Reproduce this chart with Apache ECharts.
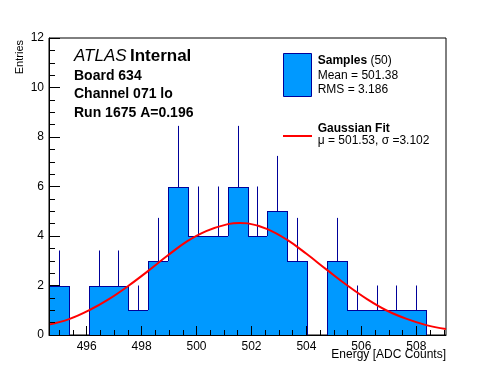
<!DOCTYPE html>
<html><head><meta charset="utf-8">
<script src="https://cdn.jsdelivr.net/npm/echarts@6/dist/echarts.min.js"></script>
<style>html,body{margin:0;padding:0;background:#fff}#c{width:496px;height:372px}</style>
</head><body><div id="c"></div>
<script>
// ---- data ----
const binLow = 494.63;
const binWidth = 0.7225;
const counts = [2,0,2,2,1,3,6,4,4,6,4,5,3,0,3,1,1,1,1,0];
const fitX = [494.63,495.36,496.09,496.81,497.50,498.23,498.96,499.68,500.35,501.14,501.57,501.87,502.58,503.29,504.00,504.76,505.49,506.22,506.92,507.65,508.36,509.08];
const fitY = [0.42,0.64,1.00,1.45,1.97,2.58,3.22,3.80,4.20,4.48,4.53,4.51,4.28,3.85,3.28,2.62,2.00,1.44,0.99,0.65,0.40,0.24];
const xMajorTicks = [496,498,500,502,504,506,508];
const xMinorTicks = [495,495.5,496,496.5,497,497.5,498,498.5,499,499.5,500,500.5,501,501.5,502,502.5,503,503.5,504,504.5,505,505.5,506,506.5,507,507.5,508,508.5,509];
const yMax = 12;
const yInterval = 2;

const FONT = '"Liberation Sans", Arial, Helvetica, sans-serif';
const FILL = '#0099ff';
const LINE = '#000099';

const chart = echarts.init(document.getElementById('c'), null, {renderer: 'canvas'});
const xMin = binLow, xMax = binLow + counts.length * binWidth;

const option = {
  animation: false,
  backgroundColor: '#fff',
  grid: {left: 49, right: 50, top: 38, bottom: 37, show: true, borderColor: '#000', borderWidth: 1, backgroundColor: 'transparent', outerBoundsMode: 'none', containLabel: false},
  xAxis: [
    {type: 'value', min: xMin, max: xMax, position: 'bottom', z: 10,
     axisLine: {show: true, onZero: false, lineStyle: {color: '#000', width: 1}},
     axisTick: {show: true, inside: true, length: 9, customValues: xMajorTicks, lineStyle: {color: '#000'}},
     axisLabel: {show: true, customValues: xMajorTicks, color: '#000', fontSize: 12, fontFamily: FONT, margin: 6, formatter: v => String(Math.round(v))},
     splitLine: {show: false}},
    {type: 'value', min: xMin, max: xMax, position: 'bottom', z: 10,
     axisLine: {show: false, onZero: false},
     axisTick: {show: true, inside: true, length: 5, customValues: xMinorTicks, lineStyle: {color: '#000'}},
     axisLabel: {show: false},
     splitLine: {show: false}}
  ],
  yAxis: {type: 'value', min: 0, max: yMax, interval: yInterval, z: 10,
     axisLine: {show: true, onZero: false, lineStyle: {color: '#000', width: 1}},
     axisTick: {show: true, inside: true, length: 11, lineStyle: {color: '#000'}},
     minorTick: {show: true, splitNumber: 4, length: 6, lineStyle: {color: '#000'}},
     axisLabel: {color: '#000', fontSize: 12, fontFamily: FONT, margin: 5},
     splitLine: {show: false}, minorSplitLine: {show: false}},
  series: [
    {type: 'custom', coordinateSystem: 'cartesian2d', xAxisIndex: 0, yAxisIndex: 0, z: 2, silent: true,
     data: counts.map((n, i) => [binLow + i * binWidth, binLow + (i + 1) * binWidth, n, i]),
     encode: {x: [0, 1], y: 2},
     renderItem: (params, api) => {
       const lo = api.value(0), hi = api.value(1), n = api.value(2), i = api.value(3);
       const p0 = api.coord([lo, 0]), p1 = api.coord([hi, n]);
       const x0 = Math.round(p0[0]), x1 = Math.round(p1[0]);
       const y0 = Math.round(p0[1]), y1 = Math.round(p1[1]);
       const ch = [];
       if (n > 0) {
         ch.push({type: 'rect', shape: {x: x0, y: y1, width: x1 - x0, height: y0 - y1}, style: {fill: FILL}});
         ch.push({type: 'line', shape: {x1: x0, y1: y1 + 0.5, x2: x1 + 1, y2: y1 + 0.5}, style: {stroke: LINE, lineWidth: 1}});
       }
       const prev = i > 0 ? counts[i - 1] : 0;
       if (prev !== n) {
         const ya = Math.round(api.coord([lo, prev])[1]);
         ch.push({type: 'line', shape: {x1: x0 + 0.5, y1: ya, x2: x0 + 0.5, y2: y1}, style: {stroke: LINE, lineWidth: 1}});
       }
       if (i === counts.length - 1 && n > 0) {
         ch.push({type: 'line', shape: {x1: x1 - 0.5, y1: y1, x2: x1 - 0.5, y2: y0}, style: {stroke: LINE, lineWidth: 1}});
       }
       if (n > 0) {
         const xc = Math.round((p0[0] + p1[0]) / 2) + 0.5;
         const ye = api.coord([lo, n + Math.sqrt(n)])[1];
         ch.push({type: 'line', shape: {x1: xc, y1: y1, x2: xc, y2: ye}, style: {stroke: LINE, lineWidth: 1}});
       }
       return {type: 'group', children: ch};
     }},
    {type: 'line', xAxisIndex: 0, yAxisIndex: 0, z: 5, silent: true,
     data: fitX.map((x, i) => [x, fitY[i]]),
     smooth: 0.4, symbol: 'none', showSymbol: false,
     lineStyle: {color: '#ff0000', width: 2}}
  ],
  graphic: [
    {type: 'text', x: 74, y: 56.5, z: 20, style: {
      text: '{a|ATLAS} {b|Internal}', verticalAlign: 'middle',
      rich: {a: {fontStyle: 'italic', fontSize: 17, fontFamily: FONT, fill: '#000'}, b: {fontWeight: 'bold', fontSize: 17, fontFamily: FONT, fill: '#000'}}}},
    {type: 'text', x: 74, y: 76, z: 20, style: {text: 'Board 634', font: 'bold 14px ' + FONT, fill: '#000', verticalAlign: 'middle'}},
    {type: 'text', x: 74, y: 94.3, z: 20, style: {text: 'Channel 071 lo', font: 'bold 14px ' + FONT, fill: '#000', verticalAlign: 'middle'}},
    {type: 'text', x: 74, y: 113.6, z: 20, style: {text: 'Run 1675 A=0.196', font: 'bold 14px ' + FONT, fill: '#000', verticalAlign: 'middle'}},
    {type: 'rect', z: 20, shape: {x: 283.5, y: 53.5, width: 28, height: 43}, style: {fill: FILL, stroke: LINE, lineWidth: 1}},
    {type: 'text', x: 317.7, y: 61, z: 20, style: {
      text: '{a|Samples} {b|(50)}', verticalAlign: 'middle',
      rich: {a: {fontWeight: 'bold', fontSize: 12, fontFamily: FONT, fill: '#000'}, b: {fontSize: 12, fontFamily: FONT, fill: '#000'}}}},
    {type: 'text', x: 317.7, y: 75.3, z: 20, style: {text: 'Mean = 501.38', font: '12px ' + FONT, fill: '#000', verticalAlign: 'middle'}},
    {type: 'text', x: 317.7, y: 89.3, z: 20, style: {text: 'RMS = 3.186', font: '12px ' + FONT, fill: '#000', verticalAlign: 'middle'}},
    {type: 'line', z: 20, shape: {x1: 283, y1: 136, x2: 312, y2: 136}, style: {stroke: '#ff0000', lineWidth: 2}},
    {type: 'text', x: 317.7, y: 128.7, z: 20, style: {text: 'Gaussian Fit', font: 'bold 12px ' + FONT, fill: '#000', verticalAlign: 'middle'}},
    {type: 'text', x: 317.7, y: 141, z: 20, style: {text: 'μ = 501.53, σ =3.102', font: '12px ' + FONT, fill: '#000', verticalAlign: 'middle'}},
    {type: 'text', x: 446, y: 355, z: 20, style: {text: 'Energy [ADC Counts]', font: '12px ' + FONT, fill: '#000', align: 'right', verticalAlign: 'middle'}},
    {type: 'text', x: 20, y: 40, rotation: Math.PI / 2, z: 20, style: {text: 'Entries', font: '11px ' + FONT, fill: '#000', align: 'right', verticalAlign: 'middle'}}
  ]
};
chart.setOption(option);
</script>
</body></html>
